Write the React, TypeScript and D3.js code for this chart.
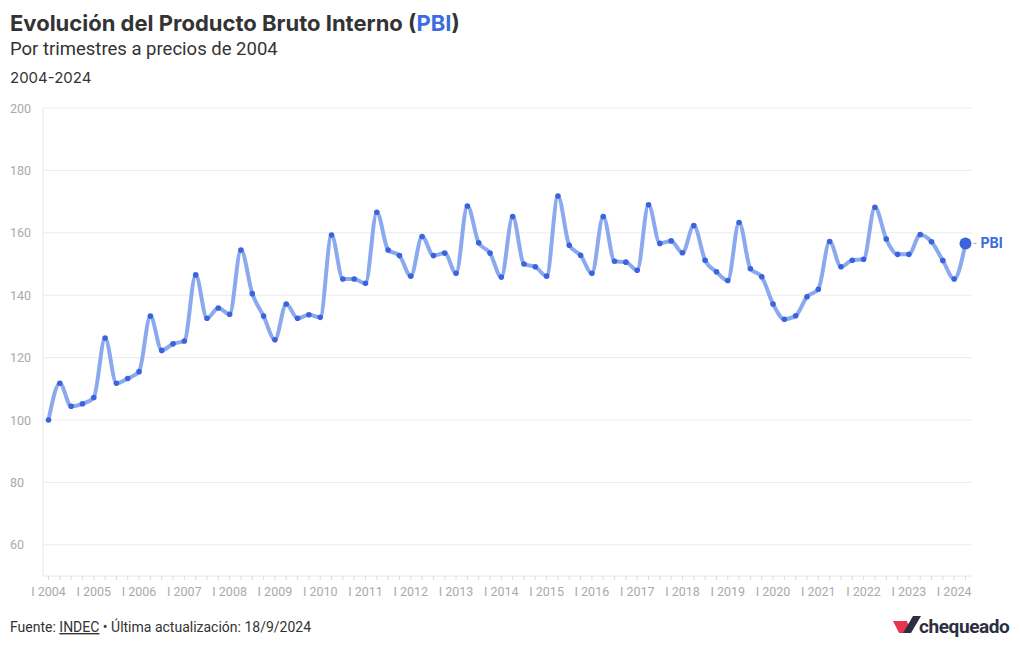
import React from "react";
import * as d3 from "d3";

// PBI trimestral, índice base I 2004 = 100
const years = d3.range(2004, 2025);
const quarterLabels = years.flatMap((y) => ["I", "II", "III", "IV"].map((q) => `${q} ${y}`)).slice(0, 82);
const pbi = [
  100.0, 111.8, 104.4, 105.2,
  107.2, 126.3, 111.8, 113.3,
  115.5, 133.3, 122.3, 124.4,
  125.3, 146.5, 132.6, 135.9,
  133.9, 154.5, 140.5, 133.3,
  125.7, 137.2, 132.6, 133.7,
  132.9, 159.3, 145.2, 145.2,
  143.8, 166.6, 154.5, 152.7,
  146.1, 158.8, 152.7, 153.5,
  147.0, 168.6, 156.8, 153.5,
  145.8, 165.2, 150.0, 149.1,
  146.1, 171.8, 156.0, 152.8,
  147.0, 165.2, 150.9, 150.6,
  148.0, 169.0, 156.6, 157.4,
  153.6, 162.3, 151.2, 147.5,
  144.7, 163.3, 148.5, 145.9,
  137.2, 132.3, 133.4, 139.5,
  141.9, 157.2, 149.1, 151.2,
  151.5, 168.2, 158.0, 153.1,
  153.1, 159.4, 157.1, 151.1,
  145.2, 156.6,
];
const yTicks = [60, 80, 100, 120, 140, 160, 180, 200];

const W = 1020;
const H = 650;
const left = 43;
const right = 972;
const top = 108;
const bottom = 576;
const font = "Roboto, sans-serif";
const inter = "Inter, sans-serif";

export default function App() {
  const x = d3.scaleLinear().domain([0, pbi.length - 1]).range([48.5, 965.5]);
  const y = d3.scaleLinear().domain([50, 200]).range([bottom, top]);

  const line = d3
    .line<number>()
    .x((_, i) => x(i))
    .y((d) => y(d))
    .curve(d3.curveMonotoneX);

  const last = pbi.length - 1;

  return (
    <svg width={W} height={H} style={{ position: "absolute", left: 0, top: 0, background: "#fff" }} fontFamily={font}>
      {/* titulos */}
      <text x={10} y={31} fontSize={22} fontWeight={700} fill="#333" fontFamily={inter}>
        Evolución del Producto Bruto Interno (<tspan fill="#3d6be0">PBI</tspan>)
      </text>
      <text x={10} y={55} fontSize={18.5} fill="#333">
        Por trimestres a precios de 2004
      </text>
      <text x={10} y={83} fontSize={15} fill="#333" fontFamily={inter}>
        2004-2024
      </text>

      {/* grilla y eje y */}
      {yTicks.map((t) => (
        <g key={t}>
          <line x1={left} x2={right} y1={y(t)} y2={y(t)} stroke="#ebebeb" />
          <text x={10} y={y(t) + 4.5} fontSize={12.5} fill="#aaa">
            {t}
          </text>
        </g>
      ))}
      <line x1={left} x2={left} y1={top} y2={bottom} stroke="#e6e6e6" />
      <line x1={left} x2={right} y1={bottom} y2={bottom} stroke="#e6e6e6" />

      {/* eje x */}
      {quarterLabels.map((q, i) => (
        <line key={q} x1={x(i)} x2={x(i)} y1={bottom} y2={bottom + 4} stroke="#dcdcdc" />
      ))}
      {quarterLabels.map((q, i) =>
        q.startsWith("I ") ? (
          <text key={"l" + q} x={x(i)} y={596} fontSize={12.5} fill="#aaa" textAnchor="middle">
            {q}
          </text>
        ) : null
      )}

      {/* serie */}
      <path d={line(pbi) || ""} fill="none" stroke="#8aa9ef" strokeWidth={4} strokeLinejoin="round" strokeLinecap="round" />
      {pbi.slice(0, last).map((v, i) => (
        <circle key={i} cx={x(i)} cy={y(v)} r={2.8} fill="#3c63de" />
      ))}
      <circle cx={x(last)} cy={y(pbi[last])} r={6} fill="#3c63de" />
      <line x1={x(last) + 8} x2={x(last) + 11} y1={y(pbi[last])} y2={y(pbi[last])} stroke="#aaa" />
      <text x={x(last) + 15} y={y(pbi[last]) + 5} fontSize={14} fontWeight={700} fill="#3d6be0" fontFamily={inter}>
        PBI
      </text>

      {/* pie */}
      <text x={10} y={632} fontSize={14} fill="#333">
        Fuente: <tspan textDecoration="underline">INDEC</tspan> • Última actualización: 18/9/2024
      </text>
      <g>
        <polygon points="893,621 907,621 911,633 899,633" fill="#e8344e" />
        <polygon points="903,633 911,633 921,616 913,616" fill="#2c2f3f" />
        <text x={919} y={633} fontSize={19} fontWeight={700} fill="#2c2f3f" letterSpacing={-0.4}>
          chequeado
        </text>
      </g>
    </svg>
  );
}
